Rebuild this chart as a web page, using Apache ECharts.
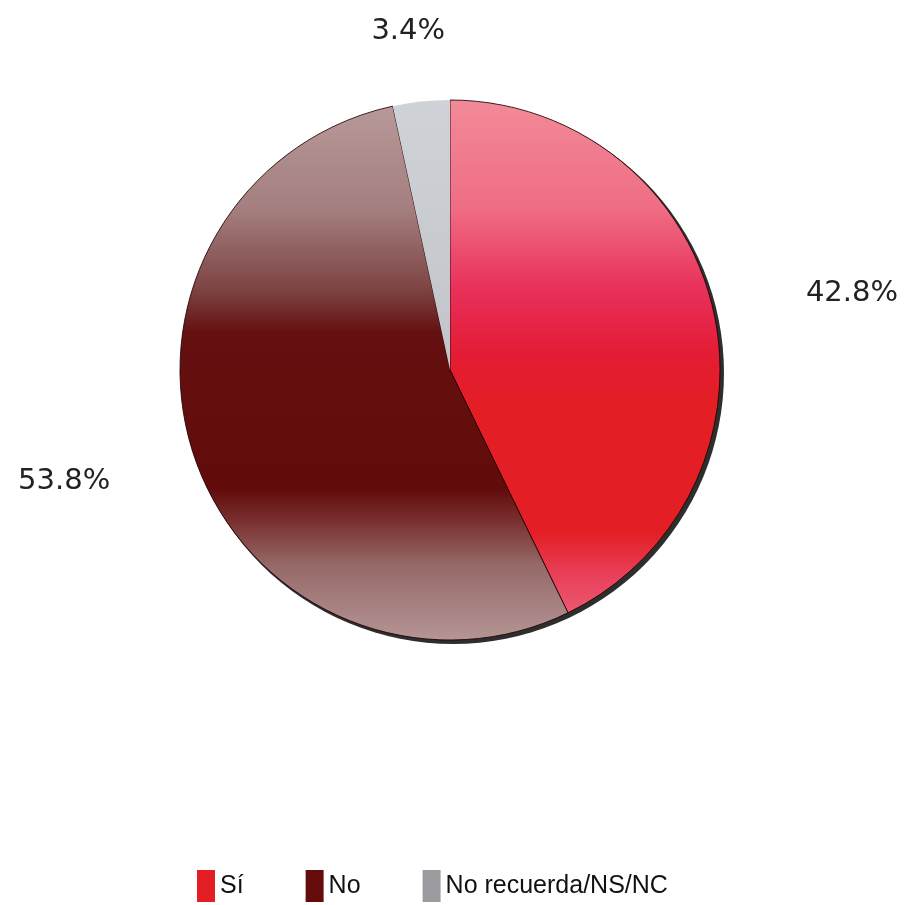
<!DOCTYPE html>
<html>
<head>
<meta charset="utf-8">
<script src="https://cdn.jsdelivr.net/npm/echarts@6/dist/echarts.min.js"></script>
<style>
  html, body { margin: 0; padding: 0; background: #ffffff; }
  #chart { width: 912px; height: 905px; }
</style>
</head>
<body>
<div id="chart"></div>
<script>
// ---- data ----
const categories = ['Sí', 'No', 'No recuerda/NS/NC'];
const values = [42.8, 53.8, 3.4];
const legendColors = ['#e31e24', '#650b0b', '#9a9ca0'];

// ---- styling ----
const CX = 450, CY = 370, R = 270;
function grad(stops) {
  return { type: 'linear', x: 0, y: CY - R, x2: 0, y2: CY + R, global: true,
    colorStops: stops.map(s => ({ offset: s[0], color: s[1] })) };
}
const fills = [
  grad([[0, '#f28a98'], [0.2, '#ef6d85'], [0.35, '#e8305a'], [0.47, '#e31c35'],
        [0.56, '#e31e24'], [0.8, '#e31e24'], [0.88, '#e8405a'], [1, '#f06a80']]),
  grad([[0, '#b89a9a'], [0.2, '#a57f7f'], [0.35, '#7d4444'], [0.43, '#651010'],
        [0.72, '#620b0b'], [0.78, '#7a3030'], [0.86, '#966868'], [1, '#b59595']]),
  grad([[0, '#cfd2d6'], [1, '#b4b6bb']])
];
const borders = ['rgba(30,0,0,0.85)', 'rgba(30,0,0,0.85)', 'rgba(0,0,0,0)'];

const total = values.reduce((a, b) => a + b, 0);
const midAngles = [];
(function () {
  let acc = 0;
  values.forEach(v => { midAngles.push((acc + v / 2) / total * 2 * Math.PI); acc += v; });
})();

const chart = echarts.init(document.getElementById('chart'), null, { renderer: 'canvas' });
chart.setOption({
  backgroundColor: '#ffffff',
  animation: false,
  legend: {
    left: 192,
    top: 865,
    itemWidth: 18,
    itemHeight: 32,
    itemGap: 62,
    icon: 'rect',
    textStyle: { fontFamily: 'Liberation Sans, Arial, sans-serif', fontSize: 25, color: '#111' },
    data: categories.map((c, i) => ({ name: c, itemStyle: { color: legendColors[i], borderWidth: 0 } }))
  },
  series: [
    {
      type: 'pie',
      silent: true,
      center: [CX + 3, CY + 3],
      radius: R + 1,
      startAngle: 90,
      label: { show: false },
      labelLine: { show: false },
      itemStyle: { color: '#2e2e2e' },
      data: [{ value: 1, name: '__shadow' }],
      z: 1
    },
    {
      type: 'pie',
      center: [CX, CY],
      radius: R,
      startAngle: 90,
      clockwise: true,
      z: 2,
      label: {
        show: true,
        position: 'outside',
        formatter: p => p.value.toFixed(1) + '%',
        fontFamily: 'DejaVu Sans, sans-serif',
        fontSize: 29,
        color: '#222'
      },
      labelLine: { show: false },
      labelLayout: function (p) {
        const a = midAngles[p.dataIndex];
        return {
          x: CX + R * 1.52 * Math.sin(a) + 2,
          y: CY - R * 1.26 * Math.cos(a),
          align: 'center',
          verticalAlign: 'middle'
        };
      },
      data: categories.map((c, i) => ({
        name: c,
        value: values[i],
        itemStyle: { color: fills[i], borderColor: borders[i], borderWidth: 1 }
      }))
    }
  ]
});
</script>
</body>
</html>
